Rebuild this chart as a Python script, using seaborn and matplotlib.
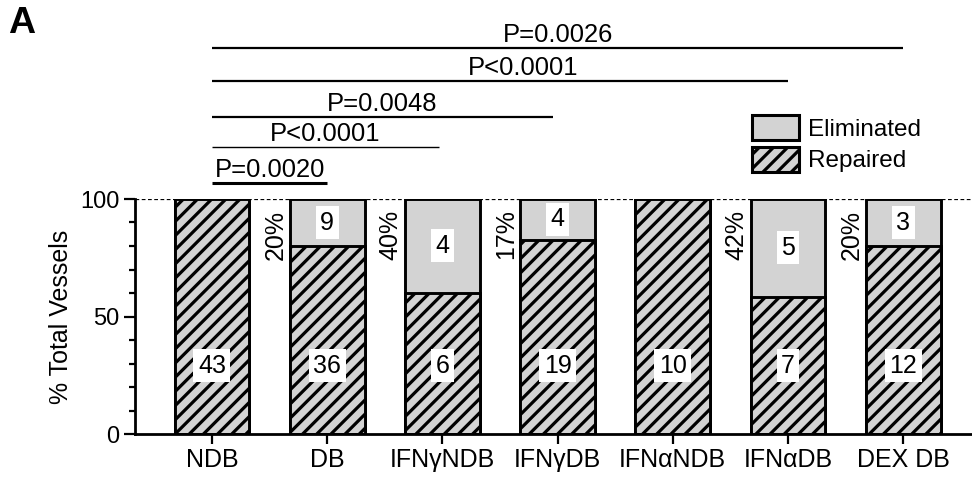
import pandas as pd
import matplotlib
matplotlib.use('Agg')
import matplotlib.pyplot as plt
from matplotlib.patches import Patch
import seaborn as sns

# Dane
groups = ['NDB', 'DB', 'IFNγNDB', 'IFNγDB', 'IFNαNDB', 'IFNαDB', 'DEX DB']
repaired_n = [43, 36, 6, 19, 10, 7, 12]
eliminated_n = [0, 9, 4, 4, 0, 5, 3]
pct_labels = ['', '20%', '40%', '17%', '', '42%', '20%']

# porównania statystyczne (od NDB do grupy)
cmp_from = ['NDB', 'NDB', 'NDB', 'NDB', 'NDB']
cmp_to = ['DB', 'IFNγNDB', 'IFNγDB', 'IFNαDB', 'DEX DB']
cmp_p = ['P=0.0020', 'P<0.0001', 'P=0.0048', 'P<0.0001', 'P=0.0026']

# styl / pozycje adnotacji
bracket_y = [106.8, 122.1, 134.9, 150.2, 164.3]
bracket_lw = [2.2, 1.0, 1.6, 1.6, 1.6]
bracket_end_shift = [0, -0.03, -0.04, 0, 0]
text_shift = [0, 0, 0, 0.2, 0]

# dpi dobrane tak, żeby gęstość kreskowania '//' pasowała (ok. 7 px)
DPI = 85
S = 100 / DPI  # rozmiary podane jak dla 100 dpi


def pt(v):
    return v * S


df = pd.DataFrame({'group': groups, 'repaired': repaired_n, 'eliminated': eliminated_n})
df['total'] = df['repaired'] + df['eliminated']
df['rep_pct'] = 100 * df['repaired'] / df['total']
df['all_pct'] = 100.0

sns.set_theme(style='ticks')
plt.rcParams['font.family'] = ['Liberation Sans', 'DejaVu Sans']
plt.rcParams['hatch.linewidth'] = pt(2.3)
for key in ['text.color', 'axes.labelcolor', 'xtick.color', 'ytick.color', 'axes.edgecolor']:
    plt.rcParams[key] = 'black'

fig = plt.figure(figsize=(972 / DPI, 480 / DPI), dpi=DPI)
ax = fig.add_axes([135 / 972, 46 / 480, 1 - 135 / 972, 235 / 480])

grey = '#d3d3d3'
bar_w = 0.65
sns.barplot(data=df, x='group', y='all_pct', color=grey, saturation=1, edgecolor='black',
            linewidth=pt(2.1), width=bar_w, errorbar=None, ax=ax)
sns.barplot(data=df, x='group', y='rep_pct', color=grey, saturation=1, edgecolor='black',
            linewidth=pt(2.1), width=bar_w, errorbar=None, hatch='//', ax=ax)

ax.axhline(100, color='black', lw=pt(0.9), ls=(0, (3, 2)), zorder=0.5)

ax.set_xlim(-0.668, 6.597)
ax.set_ylim(0, 100)
ax.set_yticks([0, 50, 100])
ax.set_yticks(range(0, 101, 10), minor=True)
ax.set_xlabel('')
ax.set_ylabel('% Total Vessels', fontsize=pt(18))
ax.yaxis.set_label_coords(-0.074, 0.5)
sns.despine(ax=ax)
for s in ['left', 'bottom']:
    ax.spines[s].set_linewidth(pt(2))
ax.tick_params(axis='y', which='major', length=pt(8), width=pt(1.6), labelsize=pt(17), pad=pt(3))
ax.tick_params(axis='y', which='minor', length=pt(4.5), width=pt(1.6))
ax.tick_params(axis='x', length=pt(7), width=pt(1.6), labelsize=pt(18), pad=pt(3))

# liczby w słupkach
box = dict(boxstyle='square,pad=0.18', fc='white', ec='none')
for i, row in df.iterrows():
    ax.text(i, 29, str(row['repaired']), ha='center', va='center', fontsize=pt(18), bbox=box, zorder=5)
    if row['eliminated'] > 0:
        ax.text(i, (row['rep_pct'] + 100) / 2, str(row['eliminated']), ha='center', va='center',
                fontsize=pt(18), bbox=box, zorder=5)
    if pct_labels[i]:
        ax.text(i - bar_w / 2 - 0.02, 95.5, pct_labels[i], rotation=90, ha='right', va='top',
                fontsize=pt(18))

# linie istotności
for k in range(len(cmp_p)):
    x0 = groups.index(cmp_from[k])
    x1 = groups.index(cmp_to[k]) + bracket_end_shift[k]
    y = bracket_y[k]
    ax.plot([x0, x1], [y, y], color='black', lw=pt(bracket_lw[k]), clip_on=False,
            solid_capstyle='butt')
    ax.text((x0 + x1) / 2 + text_shift[k], y + 2.4, cmp_p[k], ha='center', va='baseline',
            fontsize=pt(18.5), clip_on=False)

# legenda
handles = [Patch(facecolor=grey, edgecolor='black', linewidth=pt(2.2), label='Eliminated'),
           Patch(facecolor=grey, edgecolor='black', linewidth=pt(2.2), hatch='//', label='Repaired')]
fig.legend(handles=handles, loc='upper left', bbox_to_anchor=(752 / 972, 1 - 115 / 480),
           frameon=False, fontsize=pt(17.5), handlelength=1.95, handleheight=1.2,
           handletextpad=0.35, labelspacing=0.25, borderpad=0, borderaxespad=0)

fig.text(8 / 972, 1 - 6 / 480, 'A', fontsize=pt(27), fontweight='bold', ha='left', va='top')

fig.savefig('out.png', dpi=DPI)
